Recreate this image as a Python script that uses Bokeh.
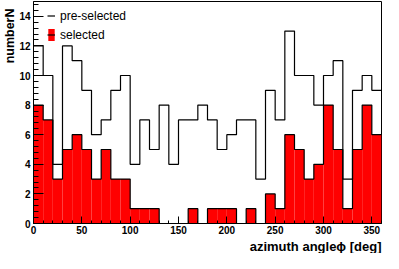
from bokeh.plotting import figure
from bokeh.models import Range1d, FixedTicker, Title, Legend, LegendItem, ColumnDataSource
from bokeh.embed import file_html
from bokeh.resources import INLINE

# ---- data -------------------------------------------------------------
bin_width = 10
bin_left = list(range(0, 360, bin_width))
pre_selected = [12, 10, 4, 12, 11, 9, 6, 7, 9, 10, 4, 7, 5, 8, 4, 7, 7, 8,
                7, 5, 6, 7, 7, 3, 9, 7, 13, 10, 10, 8, 10, 11, 3, 9, 10, 9]
selected = [8, 7, 3, 5, 6, 5, 3, 5, 3, 3, 1, 1, 1, 0, 0, 0, 1, 0,
            1, 1, 1, 0, 1, 0, 2, 1, 6, 5, 3, 4, 8, 5, 1, 5, 8, 6]
x_ticks = [0, 50, 100, 150, 200, 250, 300, 350]
y_ticks = [0, 2, 4, 6, 8, 10, 12, 14]
x_title = "azimuth angle\u03d5 [deg]"
y_title = "numberN"
legend_labels = ["pre-selected", "selected"]

# ---- derived ----------------------------------------------------------
bin_right = [b + bin_width for b in bin_left]
edges = bin_left + [bin_right[-1]]
pre_step = pre_selected + [pre_selected[-1]]
sel_step = selected + [selected[-1]]

FONT = "Liberation Sans"

p = figure(width=383, height=253,
           x_range=Range1d(0, 360), y_range=Range1d(0, 15),
           output_backend="svg", toolbar_location=None,
           min_border_left=33, min_border_right=2,
           min_border_top=1, min_border_bottom=10)
p.background_fill_color = "white"
p.border_fill_color = "white"
p.grid.visible = False
p.outline_line_color = "black"
p.outline_line_width = 1
p.outline_line_alpha = 1

# selected histogram (filled)
src_sel = ColumnDataSource(dict(left=bin_left, right=bin_right, top=selected,
                                bottom=[0] * len(selected)))
r_fill = p.quad(left="left", right="right", top="top", bottom="bottom",
                source=src_sel, fill_color="#ff0000", line_color=None)
r_sel_line = p.step(x=edges, y=sel_step, mode="after", line_color="black",
                    line_width=1.2)
# pre-selected histogram (outline)
r_pre = p.step(x=edges, y=pre_step, mode="after", line_color="black",
               line_width=1.2)

# axes
for ax in (p.xaxis[0], p.yaxis[0]):
    ax.axis_line_color = "black"
    ax.axis_line_width = 1
    ax.major_tick_line_color = "black"
    ax.minor_tick_line_color = "black"
    ax.major_tick_out = 0
    ax.minor_tick_out = 0
    ax.major_label_text_font = FONT
    ax.major_label_text_font_style = "bold"
    ax.major_label_text_font_size = "10px"
    ax.major_label_text_color = "black"
    ax.major_label_standoff = 3

p.xaxis.major_label_standoff = 2
p.xaxis.ticker = FixedTicker(ticks=x_ticks,
                             minor_ticks=list(range(0, 361, bin_width)))
p.yaxis.ticker = FixedTicker(ticks=y_ticks,
                             minor_ticks=[round(0.4 * i, 1) for i in range(38)])
p.xaxis.major_tick_in = 7
p.xaxis.minor_tick_in = 3
p.yaxis.major_tick_in = 10
p.yaxis.minor_tick_in = 5

# axis titles (ROOT style: aligned to the axis end)
p.add_layout(Title(text=x_title, align="right", standoff=0, offset=0,
                   text_font=FONT, text_font_style="bold",
                   text_font_size="13px", text_color="black"), "below")
p.add_layout(Title(text=y_title, align="right", standoff=0, offset=7,
                   text_font=FONT, text_font_style="bold",
                   text_font_size="12.5px", text_color="black"), "left")

# legend
legend = Legend(items=[LegendItem(label=legend_labels[0], renderers=[r_pre]),
                       LegendItem(label=legend_labels[1],
                                  renderers=[r_fill, r_sel_line])],
                location=(14, 181), orientation="vertical",
                glyph_width=8, glyph_height=15, label_height=15,
                label_width=10, spacing=4, padding=0, margin=0,
                label_standoff=5,
                label_text_font=FONT, label_text_font_size="12px",
                label_text_color="black",
                background_fill_alpha=0, border_line_alpha=0)
p.add_layout(legend)

open("out.html", "w").write(file_html(p, INLINE))
